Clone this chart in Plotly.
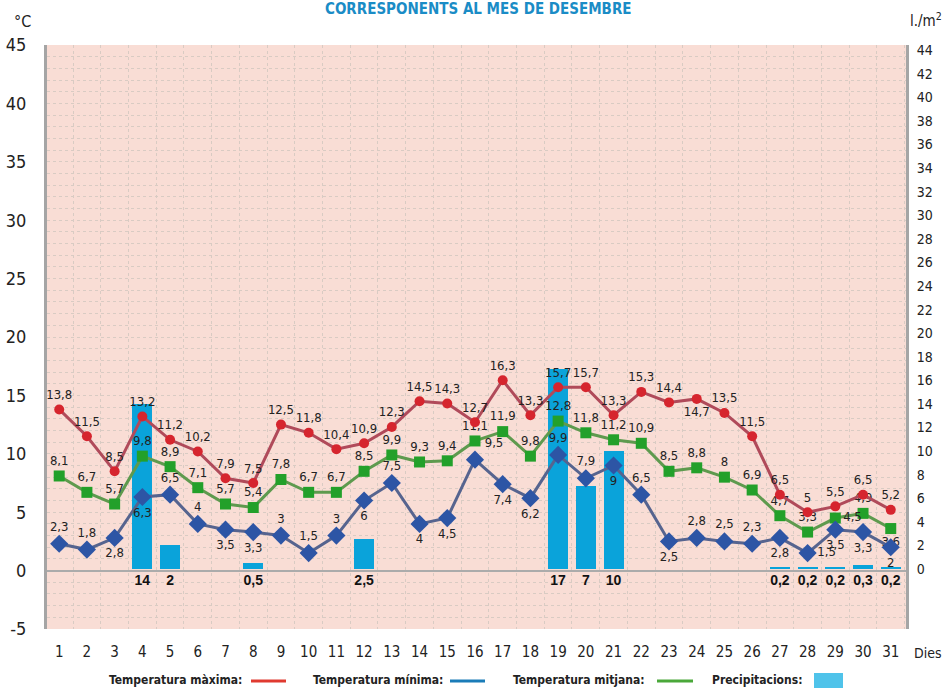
import plotly.graph_objects as go

days = list(range(1, 32))
t_max = [13.8, 11.5, 8.5, 13.2, 11.2, 10.2, 7.9, 7.5, 12.5, 11.8, 10.4, 10.9, 12.3, 14.5, 14.3,
         12.7, 16.3, 13.3, 15.7, 15.7, 13.3, 15.3, 14.4, 14.7, 13.5, 11.5, 6.5, 5.0, 5.5, 6.5, 5.2]
t_min = [2.3, 1.8, 2.8, 6.3, 6.5, 4.0, 3.5, 3.3, 3.0, 1.5, 3.0, 6.0, 7.5, 4.0, 4.5,
         9.5, 7.4, 6.2, 9.9, 7.9, 9.0, 6.5, 2.5, 2.8, 2.5, 2.3, 2.8, 1.5, 3.5, 3.3, 2.0]
t_mean = [8.1, 6.7, 5.7, 9.8, 8.9, 7.1, 5.7, 5.4, 7.8, 6.7, 6.7, 8.5, 9.9, 9.3, 9.4,
          11.1, 11.9, 9.8, 12.8, 11.8, 11.2, 10.9, 8.5, 8.8, 8.0, 6.9, 4.7, 3.3, 4.5, 4.9, 3.6]
precip = [0, 0, 0, 14, 2, 0, 0, 0.5, 0, 0, 0, 2.5, 0, 0, 0,
          0, 0, 0, 17, 7, 10, 0, 0, 0, 0, 0, 0.2, 0.2, 0.2, 0.3, 0.2]

left_ticks = [-5, 0, 5, 10, 15, 20, 25, 30, 35, 40, 45]
right_ticks = list(range(0, 45, 2))


def fmt(v):
    if float(v).is_integer():
        return str(int(v))
    return ("%g" % v).replace(".", ",")


FONT = "DejaVu Sans Condensed, DejaVu Sans, sans-serif"

max_pos = ["top center"] * 31
max_pos[23] = "bottom center"

min_pos = ["top center"] * 31
for d in [3, 4, 7, 8, 12, 14, 15, 17, 18, 21, 23, 27, 29, 30, 31]:
    min_pos[d - 1] = "bottom center"
min_pos[15] = "top right"
min_pos[27] = "middle right"

mean_pos = ["top center"] * 31
mean_pos[28] = "middle right"
mean_pos[30] = "bottom center"

fig = go.Figure()

# precipitation bars (right axis = yaxis, drawn underneath)
fig.add_trace(go.Bar(
    x=days, y=precip, yaxis="y", width=0.72,
    marker=dict(color="#0aa3da", line=dict(width=0)),
    showlegend=False, hoverinfo="skip"))

# precipitation labels below zero line
p_days = [d for d, p in zip(days, precip) if p > 0]
p_vals = [p for p in precip if p > 0]
fig.add_trace(go.Scatter(
    x=p_days, y=[-1.05] * len(p_days), yaxis="y", mode="text",
    text=["<b>" + fmt(v) + "</b>" for v in p_vals],
    textfont=dict(family="Liberation Sans, Arial, sans-serif", size=14, color="#111"),
    showlegend=False, hoverinfo="skip", cliponaxis=False))

LBL = dict(family=FONT, size=13, color="#222")

# temperatures on the left axis (yaxis2, overlaying => drawn above bars)
fig.add_trace(go.Scatter(
    x=days, y=t_mean, yaxis="y2", mode="lines+markers+text",
    line=dict(color="#5e9a4e", width=3),
    marker=dict(symbol="square", size=11, color="#23a02a"),
    text=[fmt(v) for v in t_mean], textposition=mean_pos, textfont=LBL,
    showlegend=False, cliponaxis=False))

fig.add_trace(go.Scatter(
    x=days, y=t_min, yaxis="y2", mode="lines+markers+text",
    line=dict(color="#56648f", width=3),
    marker=dict(symbol="diamond", size=14, color="#2d55a5"),
    text=[fmt(v) for v in t_min], textposition=min_pos, textfont=LBL,
    showlegend=False, cliponaxis=False))

fig.add_trace(go.Scatter(
    x=days, y=t_max, yaxis="y2", mode="lines+markers+text",
    line=dict(color="#b04a5a", width=3),
    marker=dict(symbol="circle", size=10, color="#d6252e"),
    text=[fmt(v) for v in t_max], textposition=max_pos, textfont=LBL,
    showlegend=False, cliponaxis=False))

L, R, T, B = 47, 39, 45, 59
W, H = 945, 688
pw, ph = W - L - R, H - T - B


def px(xp):
    return (xp - L) / pw


def py(yp):
    return (H - B - yp) / ph


annotations = [
    dict(text="<b>CORRESPONENTS AL MES DE DESEMBRE</b>", x=px(478), y=py(9),
         font=dict(family=FONT, size=15, color="#1a8cc6")),
    dict(text="°C", x=px(22), y=py(21), font=dict(family=FONT, size=16, color="#222")),
    dict(text="l./m<sup>2</sup>", x=px(944), y=py(20), xanchor="right",
         font=dict(family=FONT, size=15, color="#222")),
    dict(text="Dies", x=px(944), y=py(653), xanchor="right",
         font=dict(family=FONT, size=14, color="#222")),
]
legend_items = [
    ("Temperatura màxima:", 175, "#e03a30", 251, 286),
    ("Temperatura mínima:", 378, "#1a7cb8", 450, 485),
    ("Temperatura mitjana:", 579, "#4aa83a", 657, 693),
]
shapes = []
for txt, cx, col, x0, x1 in legend_items:
    annotations.append(dict(text="<b>" + txt + "</b>", x=px(cx), y=py(680),
                            font=dict(family=FONT, size=12, color="#222")))
    shapes.append(dict(type="line", xref="paper", yref="paper",
                       x0=px(x0), x1=px(x1), y0=py(681), y1=py(681),
                       line=dict(color=col, width=3)))
annotations.append(dict(text="<b>Precipitacions:</b>", x=px(757), y=py(680),
                        font=dict(family=FONT, size=12, color="#222")))
shapes.append(dict(type="rect", xref="paper", yref="paper",
                   x0=px(814), x1=px(843), y0=py(688), y1=py(673),
                   fillcolor="#4fc3ea", line=dict(width=0)))
for a in annotations:
    a.setdefault("xanchor", "center")
    a.update(xref="paper", yref="paper", showarrow=False, yanchor="middle")

GRID = "#d9cbc3"

fig.update_layout(
    width=W, height=H,
    margin=dict(l=L, r=R, t=T, b=B, autoexpand=False),
    paper_bgcolor="white", plot_bgcolor="#f9ddd5",
    font=dict(family=FONT, color="#222"),
    bargap=0,
    xaxis=dict(range=[0.56, 31.55], tickvals=days, ticktext=[str(d) for d in days],
               tickfont=dict(size=15), showgrid=False, zeroline=False, automargin=False,
               ticks="outside", ticklen=9, tickcolor="rgba(0,0,0,0)",
               minor=dict(tick0=0.5, dtick=1, showgrid=True, gridcolor=GRID,
                          griddash="dot", gridwidth=1),
               showline=False, fixedrange=True),
    # precipitation axis (right)
    yaxis=dict(range=[-5.1, 44.45], side="right",
               tickvals=right_ticks, ticktext=[str(v) for v in right_ticks],
               tickfont=dict(size=14), showgrid=False, zeroline=False, automargin=False,
               showline=True, linecolor="#a5a5a5", linewidth=3,
               ticks="outside", ticklen=5, tickcolor="rgba(0,0,0,0)"),
    # temperature axis (left)
    yaxis2=dict(range=[-5, 45], overlaying="y", side="left",
                tickvals=left_ticks, ticktext=[str(v) for v in left_ticks],
                tickfont=dict(size=18), showgrid=True, gridcolor=GRID, griddash="dot",
                minor=dict(dtick=1, showgrid=True, gridcolor=GRID, griddash="dot"),
                zeroline=True, zerolinecolor="#ababab", zerolinewidth=2, automargin=False,
                showline=True, linecolor="#a5a5a5", linewidth=3,
                ticks="outside", ticklen=14, tickcolor="rgba(0,0,0,0)"),
    annotations=annotations, shapes=shapes,
)

fig.write_html("out.html", config={"displayModeBar": False},
               post_script="document.body.style.margin='0';")
